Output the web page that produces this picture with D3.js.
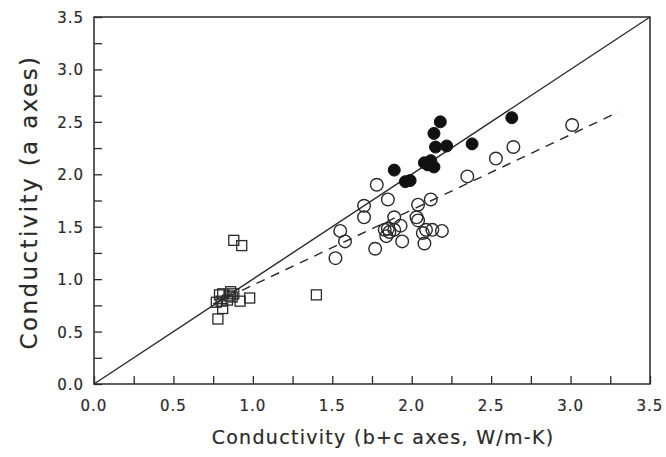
<!DOCTYPE html>
<html>
<head>
<meta charset="utf-8">
<script src="https://cdn.jsdelivr.net/npm/d3@7"></script>
<style>
  body { margin: 0; background: #fff; }
  svg text { font-family: "DejaVu Sans", sans-serif; fill: #2a2a2a; stroke: #2a2a2a; stroke-width: 0.2px; }
</style>
</head>
<body>
<div id="chart"></div>
<script>
// filled circles
var filledX = [1.89, 1.96, 1.99, 2.08, 2.10, 2.12, 2.14, 2.14, 2.15, 2.18, 2.22, 2.38, 2.63];
var filledY = [2.04, 1.93, 1.94, 2.11, 2.09, 2.13, 2.07, 2.39, 2.26, 2.50, 2.27, 2.29, 2.54];
// open circles
var openX = [1.78, 1.70, 1.70, 1.85, 1.55, 1.58, 1.52, 1.77, 1.89, 1.93, 1.85, 1.86, 1.83, 1.89, 1.94, 1.84,
             2.03, 2.04, 2.04, 2.12, 2.07, 2.09, 2.13, 2.19, 2.08, 2.35, 2.53, 2.64, 3.01];
var openY = [1.90, 1.70, 1.59, 1.76, 1.46, 1.36, 1.20, 1.29, 1.59, 1.51, 1.48, 1.45, 1.47, 1.47, 1.36, 1.41,
             1.59, 1.56, 1.71, 1.76, 1.44, 1.47, 1.47, 1.46, 1.34, 1.98, 2.15, 2.26, 2.47];
// open squares
var squareX = [0.79, 0.81, 0.86, 0.85, 0.87, 0.77, 0.80, 0.84, 0.92, 0.98, 0.81, 0.78, 1.40, 0.88, 0.93, 0.88];
var squareY = [0.85, 0.86, 0.88, 0.84, 0.83, 0.78, 0.79, 0.80, 0.79, 0.82, 0.72, 0.62, 0.85, 1.37, 1.32, 0.86];
// 1:1 line and regression line end points
var oneToOne = [[0, 0], [3.5, 3.5]];
var fitLine = [[0.75, 0.763], [3.3, 2.593]];
var tickValues = [0, 0.5, 1.0, 1.5, 2.0, 2.5, 3.0, 3.5];
var minorTicks = d3.range(0, 3.5001, 0.25);

const WIDTH = 666, HEIGHT = 457;
var margin = {left: 94, right: 16, top: 17, bottom: 73};

var svg = d3.select('#chart').append('svg')
  .attr('width', WIDTH)
  .attr('height', HEIGHT);

var x = d3.scaleLinear().domain([0, 3.5]).range([margin.left, WIDTH - margin.right]);
var y = d3.scaleLinear().domain([0, 3.5]).range([HEIGHT - margin.bottom, margin.top]);

var ink = '#2a2a2a';

// inward ticks on left and bottom
svg.append('g')
  .attr('transform', 'translate(0,' + y(0) + ')')
  .call(d3.axisBottom(x).tickValues(minorTicks).tickSize(-8).tickFormat(''));
svg.append('g')
  .attr('transform', 'translate(' + x(0) + ',0)')
  .call(d3.axisLeft(y).tickValues(minorTicks).tickSize(-8).tickFormat(''));
svg.selectAll('.domain').remove();
svg.selectAll('.tick line').attr('stroke', ink).attr('stroke-width', 1.3);

// tick labels
svg.append('g').selectAll('text').data(tickValues).enter().append('text')
  .attr('x', function (d) { return x(d); })
  .attr('y', y(0) + 27)
  .attr('text-anchor', 'middle')
  .style('font-size', '15px')
  .style('letter-spacing', '1px')
  .text(function (d) { return d3.format('.1f')(d); });
svg.append('g').selectAll('text').data(tickValues).enter().append('text')
  .attr('x', x(0) - 10)
  .attr('y', function (d) { return y(d) + 6; })
  .attr('text-anchor', 'end')
  .style('font-size', '15px')
  .style('letter-spacing', '1px')
  .text(function (d) { return d3.format('.1f')(d); });

// frame
svg.append('rect')
  .attr('x', x(0)).attr('y', y(3.5))
  .attr('width', x(3.5) - x(0)).attr('height', y(0) - y(3.5))
  .attr('fill', 'none').attr('stroke', ink).attr('stroke-width', 1.5);

var line = d3.line()
  .x(function (d) { return x(d[0]); })
  .y(function (d) { return y(d[1]); });

svg.append('path').datum(oneToOne)
  .attr('d', line).attr('fill', 'none')
  .attr('stroke', ink).attr('stroke-width', 1.4);
svg.append('path').datum(fitLine)
  .attr('d', line).attr('fill', 'none')
  .attr('stroke', ink).attr('stroke-width', 1.4)
  .attr('stroke-dasharray', '9,7');

// squares
svg.append('g').selectAll('rect').data(squareX).enter().append('rect')
  .attr('x', function (d) { return x(d) - 5; })
  .attr('y', function (d, i) { return y(squareY[i]) - 5; })
  .attr('width', 10).attr('height', 10)
  .attr('fill', 'none').attr('stroke', ink).attr('stroke-width', 1.3);

// open circles
svg.append('g').selectAll('circle').data(openX).enter().append('circle')
  .attr('cx', function (d) { return x(d); })
  .attr('cy', function (d, i) { return y(openY[i]); })
  .attr('r', 6.3)
  .attr('fill', 'none').attr('stroke', ink).attr('stroke-width', 1.4);

// filled circles
svg.append('g').selectAll('circle').data(filledX).enter().append('circle')
  .attr('cx', function (d) { return x(d); })
  .attr('cy', function (d, i) { return y(filledY[i]); })
  .attr('r', 6)
  .attr('fill', '#111').attr('stroke', '#111').attr('stroke-width', 1);

// axis titles
svg.append('text')
  .attr('x', 383)
  .attr('y', 444)
  .attr('text-anchor', 'middle')
  .style('font-size', '19px')
  .style('letter-spacing', '1.3px')
  .text('Conductivity (b+c axes, W/m-K)');
svg.append('text')
  .attr('transform', 'translate(37,202) rotate(-90)')
  .attr('text-anchor', 'middle')
  .style('font-size', '23px')
  .style('letter-spacing', '2.4px')
  .text('Conductivity (a axes)');
</script>
</body>
</html>
